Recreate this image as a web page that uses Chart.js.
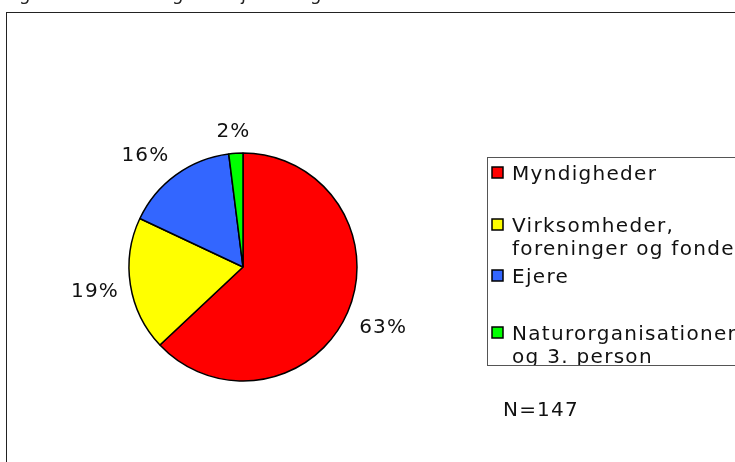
<!DOCTYPE html>
<html>
<head>
<meta charset="utf-8">
<script src="https://cdn.jsdelivr.net/npm/chart.js@4"></script>
<style>
  html, body { margin: 0; padding: 0; background: #fff; }
  #wrap { width: 735px; height: 462px; }
</style>
</head>
<body>
<div id="wrap"><canvas id="grafico" width="735" height="462"></canvas></div>
<script>
// data
const kategorier = [
    ["Myndigheder"],
    ["Virksomheder,", "foreninger og fonde"],
    ["Ejere"],
    ["Naturorganisationer", "og 3. person"]
];
const andele = [63, 19, 16, 2];
const farver = ["#FF0000", "#FFFF00", "#3366FF", "#00FF00"];
const antalTekst = "N=147";
const titelTekst = "Figur 5. Fordeling af rejste sager";

const FONT = "20px 'DejaVu Sans'";
const CAP = 14.5;
const BOKS_H = 22;

// frame + cut-off caption
const rammePlugin = {
    id: "ramme",
    beforeDraw(chart) {
        const ctx = chart.ctx;
        ctx.save();
        ctx.fillStyle = "#fff";
        ctx.fillRect(0, 0, chart.width, chart.height);
        ctx.font = "18px 'DejaVu Sans'";
        ctx.letterSpacing = "1.5px";
        ctx.fillStyle = "#222";
        ctx.textBaseline = "alphabetic";
        ctx.fillText(titelTekst, 2, 0);
        ctx.letterSpacing = "0px";
        ctx.strokeStyle = "#222";
        ctx.lineWidth = 1;
        ctx.strokeRect(6.5, 12.5, 800, 600);
        ctx.restore();
    }
};

// percentage labels outside the slices (anchored like Excel: nearest corner at r + gap)
const procentPlugin = {
    id: "procent",
    afterDatasetsDraw(chart) {
        const ctx = chart.ctx;
        const meta = chart.getDatasetMeta(0);
        const klip = v => Math.max(-1, Math.min(1, v));
        ctx.save();
        ctx.font = FONT;
        ctx.letterSpacing = "1.2px";
        ctx.fillStyle = "#111";
        ctx.textAlign = "center";
        ctx.textBaseline = "alphabetic";
        meta.data.forEach((arc, i) => {
            const p = arc.getProps(["x", "y", "startAngle", "endAngle", "outerRadius"], true);
            const mid = (p.startAngle + p.endAngle) / 2;
            const txt = andele[i] + "%";
            const w = ctx.measureText(txt).width;
            const cos = Math.cos(mid), sin = Math.sin(mid);
            const ax = p.x + cos * (p.outerRadius + 12);
            const ay = p.y + sin * (p.outerRadius + 12);
            const cx = ax + klip(cos * 2) * w / 2;
            const cy = ay + klip(sin * 2) * BOKS_H / 2;
            ctx.fillText(txt, cx + 0.5, cy + CAP / 2);
        });
        ctx.restore();
    }
};

// legend box like the original (runs off the right edge)
const forklaringPlugin = {
    id: "forklaring",
    afterDraw(chart) {
        const ctx = chart.ctx;
        const boks = { x: 487.5, y: 157.5, w: 400, h: 208 };
        const linjer = [180, 232, 283, 340];
        ctx.save();
        ctx.strokeStyle = "#555";
        ctx.lineWidth = 1;
        ctx.strokeRect(boks.x, boks.y, boks.w, boks.h);
        ctx.beginPath();
        ctx.rect(boks.x + 0.5, boks.y + 0.5, boks.w, boks.h - 1);
        ctx.clip();
        ctx.font = FONT;
        ctx.letterSpacing = "1.3px";
        ctx.textBaseline = "alphabetic";
        kategorier.forEach((linjeTekst, i) => {
            const y = linjer[i];
            ctx.fillStyle = farver[i];
            ctx.fillRect(492, y - 13, 11, 11);
            ctx.strokeStyle = "#000";
            ctx.lineWidth = 1.5;
            ctx.strokeRect(492, y - 13, 11, 11);
            ctx.fillStyle = "#111";
            linjeTekst.forEach((t, j) => ctx.fillText(t, 512, y + j * 23));
        });
        ctx.restore();

        ctx.save();
        ctx.font = FONT;
        ctx.letterSpacing = "1.2px";
        ctx.fillStyle = "#111";
        ctx.fillText(antalTekst, 503, 416);
        ctx.restore();
    }
};

new Chart(document.getElementById("grafico"), {
    type: "pie",
    data: {
        labels: kategorier.map(l => l.join(" ")),
        datasets: [{
            data: andele,
            backgroundColor: farver,
            borderColor: "#000",
            borderWidth: 1.5
        }]
    },
    options: {
        responsive: false,
        animation: false,
        layout: {
            padding: { left: 128.25, top: 152.25, right: 377.25, bottom: 80.25 }
        },
        plugins: {
            legend: { display: false },
            tooltip: { enabled: false }
        }
    },
    plugins: [rammePlugin, procentPlugin, forklaringPlugin]
});
</script>
</body>
</html>
